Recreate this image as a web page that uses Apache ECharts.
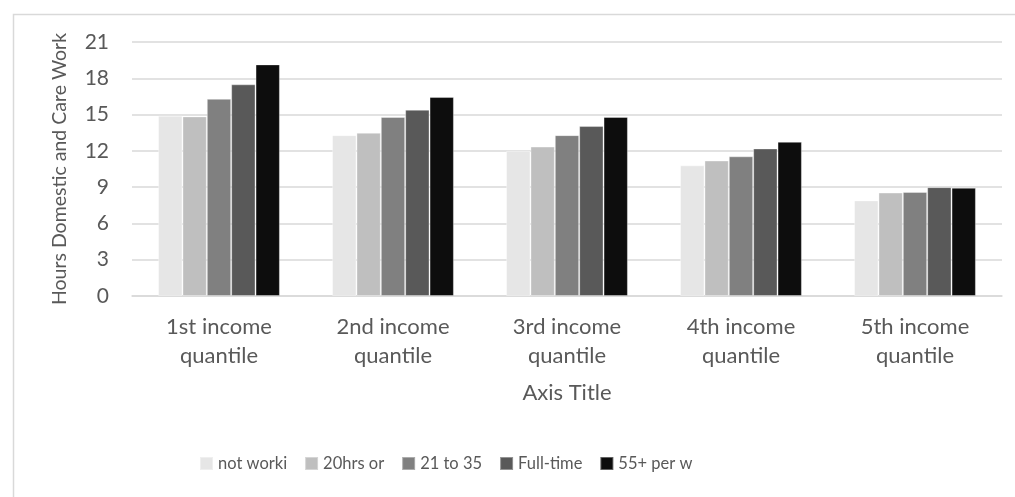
<!DOCTYPE html>
<html>
<head>
<meta charset="utf-8">
<script src="https://cdn.jsdelivr.net/npm/echarts@6/dist/echarts.min.js"></script>
<style>
  html, body { margin: 0; padding: 0; background: #fff; }
  #chart { width: 1015px; height: 497px; }
</style>
</head>
<body>
<div id="chart"></div>
<script>
// data
const categories = ['1st income\nquantile', '2nd income\nquantile', '3rd income\nquantile', '4th income\nquantile', '5th income\nquantile'];
const seriesNames = ['not worki', '20hrs or', '21 to 35', 'Full-time', '55+ per w'];
const notWorking = [14.9, 13.3, 12.0, 10.8, 7.9];
const upTo20 = [14.85, 13.5, 12.35, 11.2, 8.55];
const from21to35 = [16.3, 14.8, 13.3, 11.55, 8.6];
const fullTime = [17.5, 15.4, 14.05, 12.2, 9.0];
const over55 = [19.15, 16.45, 14.8, 12.75, 8.95];
const yTicks = { min: 0, max: 21, interval: 3 };

const values = [notWorking, upTo20, from21to35, fullTime, over55];
const colors = ['#e6e6e6', '#bfbfbf', '#808080', '#595959', '#0d0d0d'];
const font = 'Lato, "Open Sans", sans-serif';
const textColor = '#595959';

let myChart = echarts.init(document.getElementById('chart'));

let option = {
  animation: false,
  textStyle: { fontFamily: font },
  graphic: [{
    type: 'rect',
    left: 11,
    top: 12,
    shape: { width: 1100, height: 600 },
    style: { fill: 'none', stroke: '#d9d9d9', lineWidth: 1.5 },
    silent: true
  }],
  grid: { left: 132, right: 13, top: 42, bottom: 201 },
  legend: {
    left: 199,
    top: 455,
    padding: 0,
    itemWidth: 13,
    itemHeight: 13,
    itemGap: 17,
    icon: 'rect',
    textStyle: { color: textColor, fontSize: 16.5, fontFamily: font },
    data: seriesNames
  },
  xAxis: {
    type: 'category',
    data: categories,
    name: 'Axis Title',
    nameLocation: 'middle',
    nameGap: 86,
    nameTextStyle: { color: textColor, fontSize: 22, fontFamily: font },
    axisLine: { lineStyle: { color: '#d9d9d9', width: 1.5 } },
    axisTick: { show: false },
    axisLabel: { color: textColor, fontSize: 22, lineHeight: 29, margin: 16, fontFamily: font }
  },
  yAxis: {
    type: 'value',
    min: yTicks.min,
    max: yTicks.max,
    interval: yTicks.interval,
    name: 'Hours Domestic and Care Work',
    nameLocation: 'middle',
    nameGap: 62,
    nameTextStyle: { color: textColor, fontSize: 19.5, fontFamily: font },
    axisLine: { show: false },
    axisTick: { show: false },
    splitLine: { lineStyle: { color: '#d9d9d9', width: 1.5 } },
    axisLabel: { color: textColor, fontSize: 21, margin: 23, fontFamily: font }
  },
  series: seriesNames.map((name, i) => ({
    name: name,
    type: 'bar',
    data: values[i],
    barGap: '0%',
    barCategoryGap: '30%',
    itemStyle: { color: colors[i], borderColor: 'rgba(255,255,255,0.35)', borderWidth: 1 }
  }))
};

myChart.setOption(option);
</script>
</body>
</html>
